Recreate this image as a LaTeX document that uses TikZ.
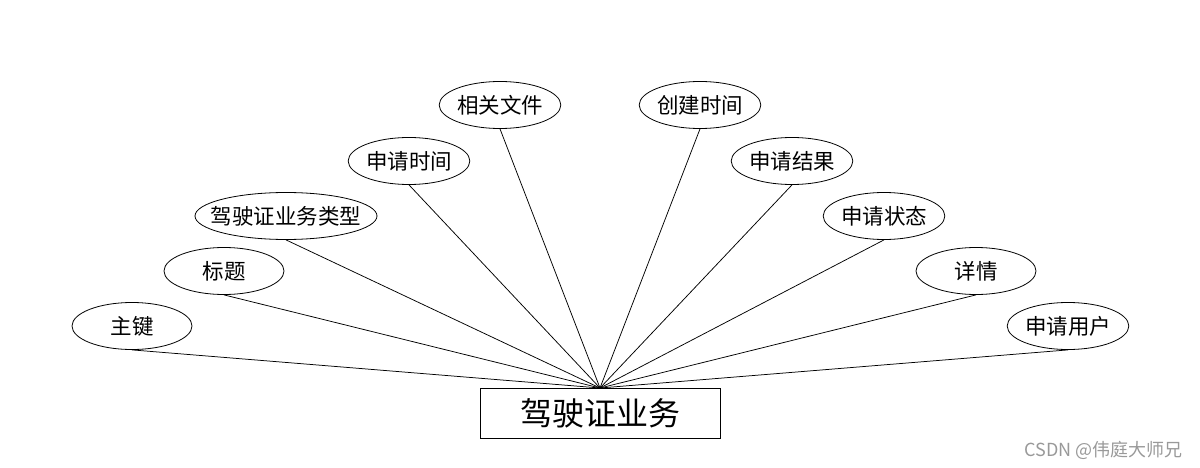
\documentclass[tikz,border=0pt]{standalone}
\usepackage{fontspec}
\setmainfont{Noto Sans CJK SC}
\usetikzlibrary{shapes.geometric}
\tikzset{
  attr/.style={draw, ellipse, line width=0.8pt, inner sep=0pt, minimum width=120pt, minimum height=47pt, font=\fontsize{21.5}{23}\selectfont},
  ent/.style={draw, rectangle, line width=0.8pt, inner sep=0pt, minimum width=240pt, minimum height=50pt, font=\fontsize{32}{36}\selectfont},
  link/.style={line width=0.75pt}
}
\begin{document}
\begin{tikzpicture}[x=1pt,y=-1pt]
\useasboundingbox (0,0) rectangle (1200,468);
\node[ent] (e) at (600,413) {驾驶证业务};
\coordinate (hub) at (600,388);
\node[attr] (a1) at (132,326) {主键};
\node[attr] (a2) at (224,271) {标题};
\node[attr, inner xsep=-12pt, minimum width=182pt] (a3) at (286,216) {驾驶证业务类型};
\node[attr] (a4) at (409,161) {申请时间};
\node[attr] (a5) at (500,105) {相关文件};
\node[attr] (a6) at (700,105) {创建时间};
\node[attr] (a7) at (792,161) {申请结果};
\node[attr] (a8) at (884,216) {申请状态};
\node[attr] (a9) at (976,271) {详情};
\node[attr] (a10) at (1068,326) {申请用户};
\foreach \n in {a1,a2,a3,a4,a5,a6,a7,a8,a9,a10}
  \draw[link] (\n.south) -- (hub);
\node[text=black!40, font=\fontsize{18}{20}\selectfont, anchor=east] (wm) at (1186,450) {CSDN @伟庭大师兄};
\end{tikzpicture}
\end{document}
